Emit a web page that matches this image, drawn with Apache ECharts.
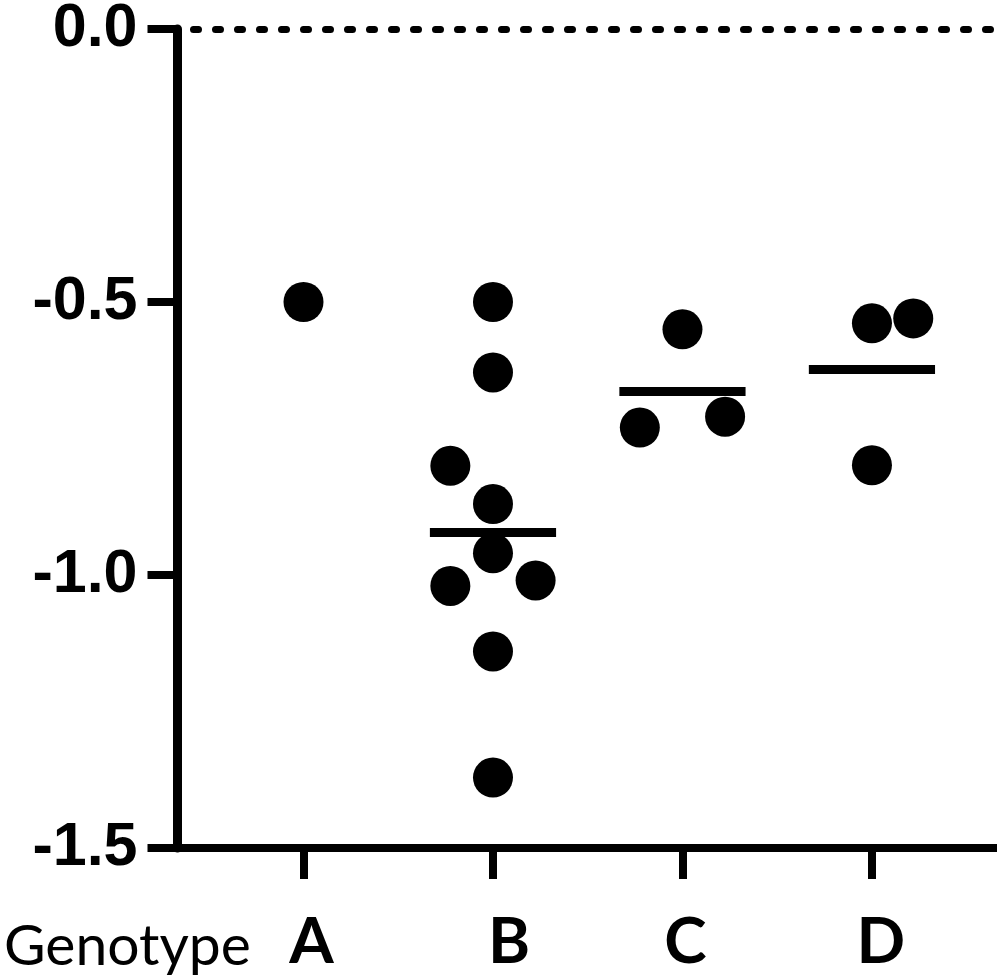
<!DOCTYPE html>
<html>
<head>
<meta charset="utf-8">
<script src="https://cdn.jsdelivr.net/npm/echarts@6/dist/echarts.min.js"></script>
<style>
html,body{margin:0;padding:0;background:#fff;}
#chart{width:1000px;height:980px;}
</style>
</head>
<body>
<div id="chart"></div>
<script>
// ---- data ----
const categories = ['A', 'B', 'C', 'D'];
const categoryX = [1, 2, 3, 4];
const valuesA = [-0.5];
const valuesB = [-0.5, -0.629, -0.800, -0.870, -0.960, -1.020, -1.010, -1.140, -1.371];
const valuesC = [-0.550, -0.730, -0.710];
const valuesD = [-0.539, -0.530, -0.799];
const yTicks = [-1.5, -1.0, -0.5, 0.0];
const xAxisTitle = 'Genotype';

// ---- layout (horizontal spread of overlapping dots) ----
const jitterA = [0];
const jitterB = [0, 0, -0.225, 0, 0, -0.225, 0.225, 0, 0];
const jitterC = [0, -0.225, 0.225];
const jitterD = [0, 0.218, 0];
const labelShift = {A: 16, B: 32, C: 6, D: 18};
const meanHalfWidth = 0.333;

const groups = [valuesA, valuesB, valuesC, valuesD];
const jitters = [jitterA, jitterB, jitterC, jitterD];

const points = [];
groups.forEach((vals, gi) => {
  vals.forEach((v, i) => points.push([categoryX[gi] + jitters[gi][i], v]));
});

const meanLines = [];
groups.forEach((vals, gi) => {
  if (vals.length < 2) return;
  const m = vals.reduce((a, b) => a + b, 0) / vals.length;
  meanLines.push([
    {coord: [categoryX[gi] - meanHalfWidth, m]},
    {coord: [categoryX[gi] + meanHalfWidth, m]}
  ]);
});

const rich = {};
categories.forEach(c => {
  rich[c] = {fontFamily: 'Lato', fontWeight: 'bold', fontSize: 64, color: '#000', padding: [0, 0, 0, labelShift[c]]};
});

const chart = echarts.init(document.getElementById('chart'), null, {renderer: 'canvas'});
chart.setOption({
  backgroundColor: '#fff',
  animation: false,
  grid: {left: 177.5, right: 3, top: 29, bottom: 132, outerBoundsMode: 'none', containLabel: false},
  xAxis: {
    type: 'value',
    min: 0.335,
    max: 4.66,
    splitLine: {show: false},
    axisLine: {onZero: false, lineStyle: {color: '#000', width: 8, cap: 'butt'}},
    axisTick: {show: true, length: 31, lineStyle: {color: '#000', width: 8}, customValues: categoryX},
    axisLabel: {
      customValues: categoryX,
      margin: 62,
      formatter: v => {
        const c = categories[Math.round(v) - 1];
        return '{' + c + '|' + c + '}';
      },
      rich: rich
    }
  },
  yAxis: {
    type: 'value',
    min: -1.5,
    max: 0,
    interval: 0.5,
    splitLine: {show: false},
    axisLine: {show: true, lineStyle: {color: '#000', width: 9}},
    axisTick: {show: true, length: 30, lineStyle: {color: '#000', width: 8}, customValues: yTicks},
    axisLabel: {
      customValues: yTicks,
      margin: 40,
      formatter: v => v.toFixed(1),
      fontFamily: 'Liberation Sans',
      fontWeight: 'bold',
      fontSize: 61,
      color: '#000'
    }
  },
  series: [{
    type: 'scatter',
    data: points,
    symbol: 'circle',
    symbolSize: 40,
    itemStyle: {color: '#000', opacity: 1},
    emphasis: {disabled: true},
    markLine: {
      silent: true,
      symbol: 'none',
      label: {show: false},
      lineStyle: {color: '#000', width: 9, type: 'solid', cap: 'butt', opacity: 1},
      data: meanLines.concat([{
        yAxis: 0,
        lineStyle: {color: '#000', width: 7, type: [5, 17], cap: 'round', dashOffset: -16}
      }])
    }
  }],
  graphic: [{
    type: 'text',
    left: 4,
    top: 918,
    style: {text: xAxisTitle, font: '57px Lato', fill: '#000'}
  }]
});
</script>
</body>
</html>
